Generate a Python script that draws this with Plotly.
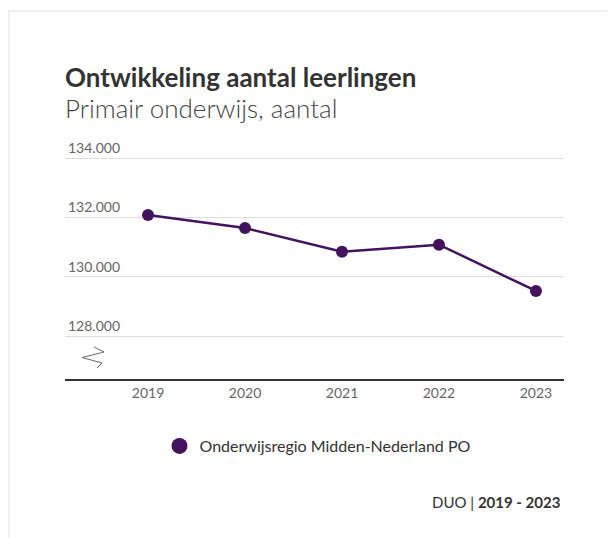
import plotly.graph_objects as go

years = [2019, 2020, 2021, 2022, 2023]
leerlingen = [132080, 131640, 130840, 131080, 129520]
series_name = "Onderwijsregio Midden-Nederland PO"
y_ticks = [128000, 130000, 132000, 134000]
title_text = "Ontwikkeling aantal leerlingen"
subtitle_text = "Primair onderwijs, aantal"
source_text = "DUO | <b>2019 - 2023</b>"

OFF = 8  # page body margin
W, H = 607, 530
Y_MIN, Y_MAX = 126550, 135250
SCALE = 0.02965  # px per unit
L, R, B = 57, 51, 159
PH = round((Y_MAX - Y_MIN) * SCALE)
T = H - B - PH
PW = W - L - R

def px(x):
    return (x - OFF - L) / PW

def py(y):
    return (H - B - (y - OFF)) / PH

FONT = "Source Sans Pro, Lato, sans-serif"
PURPLE = "#44135e"

fig = go.Figure()
fig.add_trace(go.Scatter(
    x=years, y=leerlingen, mode="lines+markers", name=series_name,
    line=dict(color=PURPLE, width=2.5),
    marker=dict(color=PURPLE, size=12),
    hoverinfo="skip", showlegend=False,
))
fig.add_trace(go.Scatter(
    x=[None], y=[None], mode="markers", name=series_name,
    marker=dict(color=PURPLE, size=17), showlegend=True,
))

shapes = [
    dict(type="rect", xref="paper", yref="paper",
         x0=px(9), x1=px(640), y0=py(11), y1=py(580),
         line=dict(color="#f0f0f0", width=2), fillcolor="rgba(0,0,0,0)", layer="below"),
    dict(type="path", xref="paper", yref="paper",
         path=f"M {px(94)},{py(347)} L {px(104)},{py(352)} L {px(82)},{py(357.5)} L {px(102)},{py(363)} L {px(97)},{py(368)}",
         line=dict(color="#666666", width=1)),
]

annotations = [
    dict(text=f"<b>{title_text}</b>", xref="paper", yref="paper", x=px(63), y=py(77),
         xanchor="left", yanchor="middle", showarrow=False,
         font=dict(family=FONT, size=26, color="#333333")),
    dict(text=subtitle_text, xref="paper", yref="paper", x=px(63), y=py(108),
         xanchor="left", yanchor="middle", showarrow=False,
         font=dict(family=FONT, size=26, color="#444444", weight=300)),
    dict(text=source_text, xref="paper", yref="paper", x=px(562), y=py(502),
         xanchor="right", yanchor="middle", showarrow=False,
         font=dict(family=FONT, size=15, color="#333333")),
]

fig.update_layout(
    width=W, height=H,
    margin=dict(l=L, r=R, t=T, b=B, pad=0),
    paper_bgcolor="white", plot_bgcolor="white",
    separators=",.",
    font=dict(family=FONT, color="#666666", size=14),
    showlegend=True,
    legend=dict(orientation="h", x=px(318), xanchor="center", y=py(446), yanchor="middle",
                font=dict(family=FONT, size=16, color="#333333"),
                itemsizing="trace", itemwidth=30),
    shapes=shapes,
    annotations=annotations,
    xaxis=dict(range=[2018.144, 2023.289], tickvals=years, ticktext=[str(y) for y in years],
               showgrid=False, zeroline=False, showline=True, linecolor="#333333", linewidth=1.5,
               ticks="", tickfont=dict(size=14, color="#666666"), fixedrange=True),
    yaxis=dict(range=[Y_MIN, Y_MAX], tickvals=y_ticks, tickformat=",d",
               ticklabelposition="inside top", showgrid=True, gridcolor="#dddddd", gridwidth=1,
               zeroline=False, showline=False, ticks="",
               tickfont=dict(size=14, color="#666666"), fixedrange=True),
)

fig.write_html("out.html")
